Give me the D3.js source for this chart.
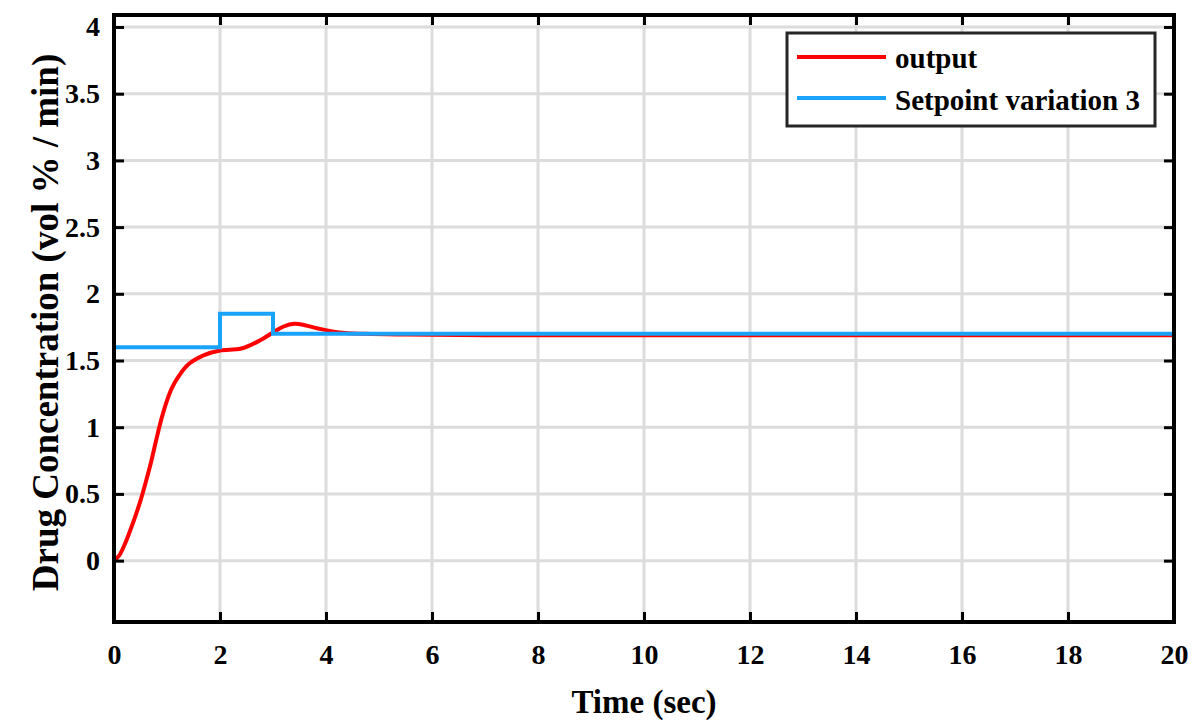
<!DOCTYPE html>
<html>
<head>
<meta charset="utf-8">
<script src="https://cdn.jsdelivr.net/npm/d3@7"></script>
<style>
  body { margin: 0; background: #fff; }
  text { font-family: "Liberation Serif", "Times New Roman", serif; font-weight: bold; fill: #000; }
</style>
</head>
<body>
<div class="chart"></div>
<script>
// output response
const outTime = [0, 0.1, 0.2, 0.3, 0.4, 0.5, 0.6, 0.7, 0.8, 0.9, 1.0, 1.1, 1.2, 1.4, 1.7, 2.0, 2.4, 2.75, 3.0, 3.2, 3.4, 3.6, 3.85, 4.25, 4.75, 5.5, 7, 10, 20];
const outValue = [0, 0.04, 0.12, 0.22, 0.33, 0.45, 0.59, 0.74, 0.91, 1.07, 1.2, 1.3, 1.37, 1.47, 1.54, 1.575, 1.59, 1.65, 1.71, 1.755, 1.775, 1.765, 1.74, 1.71, 1.70, 1.695, 1.69, 1.69, 1.69];

// setpoint steps
const spTime = [0, 2, 3, 20];
const spValue = [1.6, 1.85, 1.7, 1.7];

const xTicks = [0, 2, 4, 6, 8, 10, 12, 14, 16, 18, 20];
const yTicks = [0, 0.5, 1, 1.5, 2, 2.5, 3, 3.5, 4];
const legendNames = ["output", "Setpoint variation 3"];
const colors = ["#ff0000", "#1aa3fa"];

const W = 1200, H = 727;
const margin = {top: 15, right: 26, bottom: 105, left: 114};
const width = W - margin.left - margin.right,
      height = H - margin.top - margin.bottom;

const xScale = d3.scaleLinear().domain([0, 20]).range([0, width]);
const yScale = d3.scaleLinear().domain([-0.46, 4.09]).range([height, 0]);

const svg = d3.select(".chart").append("svg")
    .attr("width", W)
    .attr("height", H)
    .append("g")
    .attr("transform", `translate(${margin.left},${margin.top})`);

// grid
svg.append("g").selectAll("line")
    .data(xTicks).enter().append("line")
    .attr("x1", d => xScale(d)).attr("x2", d => xScale(d))
    .attr("y1", 0).attr("y2", height)
    .attr("stroke", "#dcdcdc").attr("stroke-width", 3);
svg.append("g").selectAll("line")
    .data(yTicks).enter().append("line")
    .attr("y1", d => yScale(d)).attr("y2", d => yScale(d))
    .attr("x1", 0).attr("x2", width)
    .attr("stroke", "#dcdcdc").attr("stroke-width", 3);

// lines
const line = d3.line()
    .x(d => xScale(d[0]))
    .y(d => yScale(d[1]));

svg.append("path")
    .datum(d3.zip(outTime, outValue))
    .attr("fill", "none")
    .attr("stroke", colors[0])
    .attr("stroke-width", 4)
    .attr("d", line.curve(d3.curveCatmullRom.alpha(0.5)));

svg.append("path")
    .datum(d3.zip(spTime, spValue))
    .attr("fill", "none")
    .attr("stroke", colors[1])
    .attr("stroke-width", 4)
    .attr("d", line.curve(d3.curveStepAfter));

// axes (ticks inward, box style)
const fmt = d3.format("~g");
const xAxis = d3.axisBottom(xScale).tickValues(xTicks).tickFormat(fmt).tickSizeInner(-10).tickSizeOuter(0).tickPadding(22);
const yAxis = d3.axisLeft(yScale).tickValues(yTicks).tickFormat(fmt).tickSizeInner(-10).tickSizeOuter(0).tickPadding(14);
const xTop = d3.axisTop(xScale).tickValues(xTicks).tickSizeInner(-10).tickSizeOuter(0).tickFormat("");
const yRight = d3.axisRight(yScale).tickValues(yTicks).tickSizeInner(-10).tickSizeOuter(0).tickFormat("");

const gx = svg.append("g").attr("transform", `translate(0,${height})`).call(xAxis);
const gy = svg.append("g").call(yAxis);
const gxt = svg.append("g").call(xTop);
const gyr = svg.append("g").attr("transform", `translate(${width},0)`).call(yRight);

[gx, gy, gxt, gyr].forEach(g => {
    g.attr("font-family", "Liberation Serif").attr("font-size", 28);
    g.select(".domain").remove();
    g.selectAll(".tick line").attr("stroke", "#000").attr("stroke-width", 3);
});

svg.append("rect")
    .attr("width", width).attr("height", height)
    .attr("fill", "none").attr("stroke", "#000").attr("stroke-width", 4);

// axis labels
svg.append("text")
    .attr("x", width / 2)
    .attr("y", height + 91)
    .attr("text-anchor", "middle")
    .attr("font-size", 33)
    .text("Time (sec)");

svg.append("text")
    .attr("transform", `translate(${58 - margin.left},${height / 2 + 4}) rotate(-90)`)
    .attr("text-anchor", "middle")
    .attr("font-size", 37)
    .text("Drug Concentration (vol % / min)");

// legend
const legend = svg.append("g")
    .attr("transform", `translate(${787 - margin.left},${33 - margin.top})`);
legend.append("rect")
    .attr("width", 368).attr("height", 93)
    .attr("fill", "#fff").attr("stroke", "#262626").attr("stroke-width", 3);
legend.selectAll("line.key")
    .data(legendNames).enter().append("line")
    .attr("class", "key")
    .attr("x1", 10).attr("x2", 99)
    .attr("y1", (d, i) => 24 + 41 * i).attr("y2", (d, i) => 24 + 41 * i)
    .attr("stroke", (d, i) => colors[i]).attr("stroke-width", 4);
legend.selectAll("text")
    .data(legendNames).enter().append("text")
    .attr("x", 108)
    .attr("y", (d, i) => 35 + 42 * i)
    .attr("font-size", 29)
    .text(d => d);
</script>
</body>
</html>
